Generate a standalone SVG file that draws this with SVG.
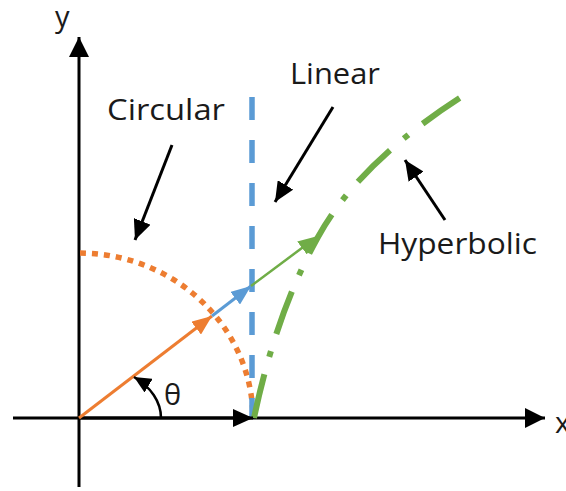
<svg xmlns="http://www.w3.org/2000/svg" width="566" height="491" viewBox="0 0 566 491">
  <defs>
    <marker id="hk" markerUnits="userSpaceOnUse" markerWidth="20" markerHeight="18" refX="20" refY="9" orient="auto">
      <path d="M0,0 L20,9 L0,18 z" fill="#000"/>
    </marker>
    <marker id="hax" markerUnits="userSpaceOnUse" markerWidth="20" markerHeight="20" refX="20" refY="10" orient="auto">
      <path d="M0,0 L20,10 L0,20 z" fill="#000"/>
    </marker>
    <marker id="hth" markerUnits="userSpaceOnUse" markerWidth="17" markerHeight="16" refX="17" refY="8" orient="auto">
      <path d="M0,0 L17,8 L0,16 z" fill="#000"/>
    </marker>
    <marker id="ho" markerUnits="userSpaceOnUse" markerWidth="20" markerHeight="16" refX="20" refY="8" orient="auto">
      <path d="M0,0 L20,8 L0,16 z" fill="#ED7D31"/>
    </marker>
    <marker id="hb" markerUnits="userSpaceOnUse" markerWidth="20" markerHeight="16" refX="20" refY="8" orient="auto">
      <path d="M0,0 L20,8 L0,16 z" fill="#5B9BD5"/>
    </marker>
    <marker id="hg" markerUnits="userSpaceOnUse" markerWidth="20" markerHeight="16" refX="20" refY="8" orient="auto">
      <path d="M0,0 L20,8 L0,16 z" fill="#70AD47"/>
    </marker>
  </defs>
  <style>
    .lbl { font-family: "Open Sans", "Liberation Sans", sans-serif; font-size: 29px; fill: #1a1a1a; }
    .ax { stroke: #000; stroke-width: 3; fill: none; }
    .ann { stroke: #000; stroke-width: 3; fill: none; marker-end: url(#hk); }
  </style>

  <g id="axes">
    <line class="ax" x1="79" y1="487" x2="79" y2="37" marker-end="url(#hax)"/>
    <line class="ax" x1="13" y1="418" x2="545" y2="418" marker-end="url(#hax)"/>
    <text class="lbl" x="55" y="27" font-size="28">y</text>
    <text class="lbl" x="555" y="433" font-size="28">x</text>
  </g>

  <g id="circular">
    <path d="M80,253 A174 166 0 0 1 253,418" fill="none" stroke="#ED7D31" stroke-width="5.5" stroke-dasharray="6 6"/>
  </g>

  <g id="linear">
    <line x1="252" y1="97" x2="252" y2="418" stroke="#5B9BD5" stroke-width="5.5" stroke-dasharray="23 20"/>
  </g>

  <g id="hyperbolic">
    <path d="M254,418 C267,356 287,293 318,237 C351,177 409,130 466,94" fill="none" stroke="#70AD47" stroke-width="6" stroke-dasharray="45 18 6 18"/>
  </g>

  <g id="vectors">
    <line x1="79" y1="418" x2="253" y2="418" stroke="#000" stroke-width="3" marker-end="url(#hk)"/>
    <line x1="79" y1="418" x2="212" y2="316" stroke="#ED7D31" stroke-width="3" marker-end="url(#ho)"/>
    <line x1="212" y1="316" x2="251" y2="286" stroke="#5B9BD5" stroke-width="3" marker-end="url(#hb)"/>
    <line x1="251" y1="286" x2="318" y2="236" stroke="#70AD47" stroke-width="2.5" marker-end="url(#hg)"/>
    <path d="M161,418 C161,402 151,387 134,377" stroke="#000" stroke-width="2.5" fill="none" marker-end="url(#hth)"/>
    <text class="lbl" x="164" y="405" font-size="29">θ</text>
  </g>

  <g id="label-circular">
    <text class="lbl" x="107" y="120" textLength="118" lengthAdjust="spacingAndGlyphs">Circular</text>
  </g>
  <g id="label-linear">
    <text class="lbl" x="290" y="84" textLength="90" lengthAdjust="spacingAndGlyphs">Linear</text>
  </g>
  <g id="label-hyperbolic">
    <text class="lbl" x="378" y="254" textLength="159" lengthAdjust="spacingAndGlyphs">Hyperbolic</text>
  </g>

  <g id="connectors">
    <line class="ann" x1="172" y1="145" x2="135" y2="240"/>
    <line class="ann" x1="333" y1="107" x2="275" y2="202"/>
    <line class="ann" x1="445" y1="220" x2="405" y2="160"/>
  </g>
</svg>
